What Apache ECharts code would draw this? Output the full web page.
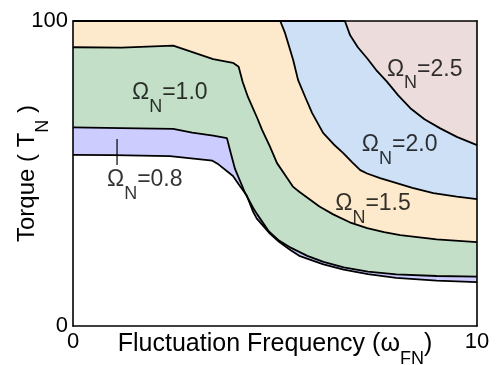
<!DOCTYPE html>
<html><head><meta charset="utf-8">
<script src="https://cdn.jsdelivr.net/npm/echarts@6/dist/echarts.min.js"></script>
<style>html,body{margin:0;padding:0;background:#fff}#c{width:499px;height:365px}</style>
</head><body><div id="c"></div>
<script>
// ---- data (x = fluctuation frequency, y = torque) ----
const xRange = [0, 10];
const yRange = [0, 100];
const curve20 = [[0,100],[6.73,100],[6.86,95.3],[7.05,91.4],[7.28,87.8],[7.5,84],[7.77,80.1],[8.05,75.6],[8.35,71.4],[8.7,67.8],[9.09,64.8],[9.5,62],[10,59.3]];
const curve15 = [[0,100],[5.13,100],[5.25,96],[5.45,87.2],[5.57,80.7],[5.75,75],[5.92,69.8],[6.19,63.3],[6.45,59.6],[6.69,56.7],[6.9,53.8],[7.11,51.1],[7.28,50],[7.6,48.5],[7.93,47.2],[8.4,45.3],[8.92,43.6],[9.5,42.4],[10,41.6]];
const curve10 = [[0,91.4],[1.2,91.3],[2.48,91.9],[3.47,87.5],[3.96,86.3],[4.1,85],[4.2,80],[4.33,75.1],[4.56,68.2],[4.68,64.3],[4.87,59],[5.05,53.4],[5.25,49.5],[5.45,45.6],[5.6,44],[6.1,39.2],[6.44,36.6],[6.85,34],[7.28,32.1],[7.7,30.8],[8.1,29.8],[9,28.4],[10,27.5]];
const curve08u = [[0,65.1],[1.2,64.9],[2.48,64.6],[2.95,63.4],[3.47,62.4],[3.81,61.6],[3.9,57],[4.01,51.5],[4.26,43.6],[4.46,38.7],[4.56,36.6],[4.85,31],[5.1,28],[5.4,25.6],[5.8,23],[6.2,21],[6.7,19.2],[7.3,17.8],[8,16.9],[9,16.4],[10,16.2]];
const curve08l = [[0,56.1],[1,56],[2.4,55.7],[3.45,54.2],[3.6,53],[3.96,49.2],[4.1,46.5],[4.3,42.8],[4.46,37.4],[4.55,35.2],[4.88,30.2],[5.1,27.6],[5.37,25],[5.6,23],[6.2,20.2],[6.7,18.5],[7.3,17],[8,15.8],[9,14.9],[10,14.4]];
const regionValues = ['0.8','1.0','1.5','2.0','2.5'];
const leader08 = [[1.09,61.3],[1.09,52.8]];
const xTitle = ['Fluctuation Frequency (\u03c9', 'FN', ')'];
const yTitle = ['Torque ( T', 'N', ' )'];

// ---- styling / layout ----
const FONT = 'Liberation Sans, Arial, sans-serif';
const fills = ['#EDDCDC', '#CDE0F5', '#FDE9CB', '#C3DFC7', '#CCCCFF', '#FFFFFF'];
const labelAnchors = [[0.84,47.9],[1.46,76.4],[6.49,40],[7.15,59.3],[7.77,84.1]];
const richLab = {
  o: {fontSize: 23, fontFamily: FONT, color: '#000'},
  s: {fontSize: 18, fontFamily: FONT, color: '#000', padding: [28,0,0,0]}
};

function areaSeries(data, color) {
  return {
    type: 'line', data: data, symbol: 'none', smooth: false, silent: true,
    lineStyle: {color: '#000', width: 1.8},
    areaStyle: {color: color, opacity: 1, origin: 'start'}
  };
}
const series = [
  areaSeries(curve20, fills[1]),
  areaSeries(curve15, fills[2]),
  areaSeries(curve10, fills[3]),
  areaSeries(curve08u, fills[4]),
  areaSeries(curve08l, fills[5]),
  {type: 'line', data: leader08, symbol: 'none', silent: true, lineStyle: {color: '#000', width: 1.2}, z: 3},
  {
    type: 'scatter', symbolSize: 0, silent: true, z: 4,
    data: regionValues.map((v, i) => ({value: labelAnchors[i], name: v})),
    label: {show: true, position: 'right', distance: 0, color: '#000',
      formatter: p => '{o|\u03a9}{s|N}{o|=' + p.name + '}', rich: richLab}
  }
];

const axisCommon = {
  type: 'value', z: 10,
  axisLine: {show: true, onZero: false, lineStyle: {color: '#000', width: 1.6}},
  axisTick: {show: false}, splitLine: {show: false}
};
const option = {
  animation: false,
  backgroundColor: '#fff',
  grid: {left: 73, top: 21, right: 22, bottom: 39, show: true, backgroundColor: fills[0], borderWidth: 0,
    containLabel: false, outerBoundsMode: 'none'},
  xAxis: [
    Object.assign({}, axisCommon, {min: xRange[0], max: xRange[1], interval: 10,
      axisLabel: {fontSize: 22, fontFamily: FONT, color: '#000', margin: 5},
      name: '{a|' + xTitle[0] + '}{s|' + xTitle[1] + '}{a|' + xTitle[2] + '}',
      nameLocation: 'middle', nameGap: -5, nameMoveOverlap: false,
      nameTextStyle: {rich: {
        a: {fontSize: 25, fontFamily: FONT, color: '#000'},
        s: {fontSize: 18, fontFamily: FONT, color: '#000', padding: [29,0,0,0]}
      }}}),
    Object.assign({}, axisCommon, {min: xRange[0], max: xRange[1], position: 'top', axisLabel: {show: false}})
  ],
  yAxis: [
    Object.assign({}, axisCommon, {min: yRange[0], max: yRange[1], interval: 100,
      axisLabel: {fontSize: 22, fontFamily: FONT, color: '#000', margin: 5},
      name: '{a|' + yTitle[0] + '}{s|' + yTitle[1] + '}{a|' + yTitle[2] + '}',
      nameLocation: 'middle', nameGap: 21, nameRotate: 90, nameMoveOverlap: false,
      nameTextStyle: {rich: {
        a: {fontSize: 24, fontFamily: FONT, color: '#000'},
        s: {fontSize: 18, fontFamily: FONT, color: '#000', padding: [32,0,0,0]}
      }}}),
    Object.assign({}, axisCommon, {min: yRange[0], max: yRange[1], position: 'right', axisLabel: {show: false}})
  ],
  series: series
};
const chart = echarts.init(document.getElementById('c'), null, {renderer: 'canvas'});
chart.setOption(option);
</script>
</body></html>
